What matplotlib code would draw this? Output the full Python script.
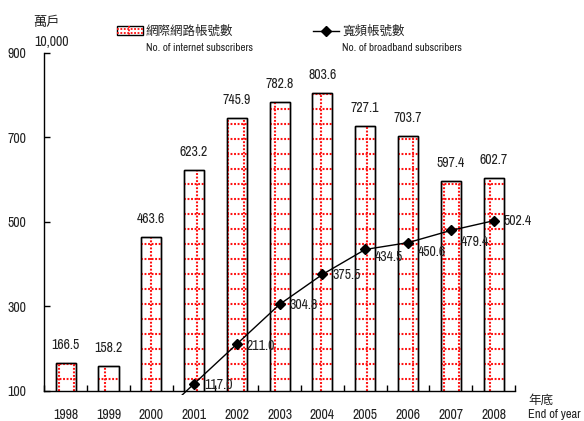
import numpy as np
import matplotlib
matplotlib.use("Agg")
import matplotlib.pyplot as plt
from matplotlib.collections import LineCollection
from matplotlib.patches import Rectangle
from matplotlib.lines import Line2D
from matplotlib import font_manager

years = ["1998", "1999", "2000", "2001", "2002", "2003", "2004", "2005", "2006", "2007", "2008"]
internet = [166.5, 158.2, 463.6, 623.2, 745.9, 782.8, 803.6, 727.1, 703.7, 597.4, 602.7]
broadband_years = ["2000", "2001", "2002", "2003", "2004", "2005", "2006", "2007", "2008"]
broadband = [22.0, 117.0, 211.0, 304.8, 375.5, 434.5, 450.6, 479.4, 502.4]
y_ticks = [100, 300, 500, 700, 900]

names = {f.name for f in font_manager.fontManager.ttflist}
latin = next((n for n in ["Archivo Narrow", "Roboto Condensed", "PT Sans Narrow", "Liberation Sans"] if n in names), "DejaVu Sans")
CJK = "Noto Sans CJK TC"
plt.rcParams['font.family'] = [latin, CJK, 'DejaVu Sans']
TXT = '#222222'
HATCH = '#ff1010'

fig = plt.figure(figsize=(5.84, 4.21), dpi=100)
ax = fig.add_axes([44.3 / 584, 1 - 391 / 421, (515 - 44.3) / 584, (391 - 52.5) / 421])
ymin, ymax = y_ticks[0], y_ticks[-1]

x = np.arange(len(years))
bars = ax.bar(x, internet, width=0.47, color='white', edgecolor='black', linewidth=1.0, zorder=2)

# dotted red grid pattern inside bars
hy = np.arange(ymin + 28.4, ymax, 35.5)
hx = 2 + 0.36 * np.arange(-8, 30)
for r in bars:
    x0, x1 = r.get_x(), r.get_x() + r.get_width()
    top = r.get_height()
    segs = [[(x0, yy), (x1, yy)] for yy in hy if yy < top]
    segs += [[(xx, ymin), (xx, top)] for xx in hx if x0 < xx < x1]
    lc = LineCollection(segs, colors=HATCH, linewidths=1.5, linestyles=[(0, (0.9, 0.8))], zorder=2.5)
    ax.add_collection(lc, autolim=False)
    r2 = Rectangle(r.get_xy(), r.get_width(), r.get_height(), fill=False, edgecolor='black', lw=1.0, zorder=3)
    ax.add_patch(r2)

for xi, v in zip(x, internet):
    ax.annotate(f"{v:.1f}", (xi, v), xytext=(0, 11), textcoords='offset pixels',
                ha='center', va='bottom', fontsize=10, color=TXT)

bx = np.array([years.index(y) for y in broadband_years])
ln, = ax.plot(bx, broadband, color='black', lw=1.0, marker='D', ms=5,
              markevery=list(range(1, len(bx))), zorder=4)
clip = Rectangle((0, -0.012), 1, 1.012, transform=ax.transAxes, visible=False)
ln.set_clip_path(clip)

label_dy = [0, -1, -2, -1, -1, -8, -9, -12, 0]
for xi, v, dy in zip(bx[1:], broadband[1:], label_dy[1:]):
    ax.annotate(f"{v:.1f}", (xi, v), xytext=(10, dy), textcoords='offset pixels',
                ha='left', va='center', fontsize=10, color=TXT, zorder=5)

ax.set_xlim(-0.5, len(years) - 0.5)
ax.set_ylim(ymin, ymax)
ax.set_xticks(x)
ax.set_xticklabels(years)
ax.set_xticks(np.arange(-0.5, len(years)), minor=True)
ax.tick_params(axis='x', which='major', length=0, pad=12, labelsize=10, labelcolor=TXT)
ax.tick_params(axis='x', which='minor', direction='in', length=4, width=1)
ax.set_yticks(y_ticks)
ax.tick_params(axis='y', direction='in', length=4, width=1, pad=13, labelsize=10, labelcolor=TXT)
for s in ['top', 'right']:
    ax.spines[s].set_visible(False)
for s in ['left', 'bottom']:
    ax.spines[s].set_linewidth(1.0)

# unit labels
fig.text(33.5 / 584, 1 - 22.7 / 421, "萬戶", family=[CJK], fontsize=9.5, color=TXT, va='center', ha='left')
fig.text(34 / 584, 1 - 41.7 / 421, "10,000", fontsize=10, color=TXT, va='center', ha='left')
fig.text(528 / 584, 1 - 400.7 / 421, "年底", family=[CJK], fontsize=9, color=TXT, va='center', ha='left')
fig.text(528 / 584, 1 - 415 / 421, "End of year", fontsize=9, color=TXT, va='center', ha='left')

# legend
lax = fig.add_axes([0, 0, 1, 1], zorder=10)
lax.set_xlim(0, 584)
lax.set_ylim(421, 0)
lax.axis('off')
lax.add_patch(Rectangle((117, 26), 26, 8.5, facecolor='white', edgecolor='none'))
lsegs = [[(117, 29), (143, 29)], [(117, 32.5), (143, 32.5)], [(129, 26), (129, 34.5)]]
llc = LineCollection(lsegs, colors=HATCH, linewidths=1.3, linestyles=[(0, (1.0, 0.9))])
lax.add_collection(llc, autolim=False)
lax.add_patch(Rectangle((117, 26), 26, 8.5, fill=False, edgecolor='black', lw=1.0))
lax.text(146, 31, "網際網路帳號數", family=[CJK], fontsize=9, color=TXT, va='center', ha='left')
lax.text(146, 47.7, "No. of internet subscribers", fontsize=8, color=TXT, va='center', ha='left')
lax.add_line(Line2D([313, 339], [31, 31], color='black', lw=1.0))
lax.add_line(Line2D([326], [31], color='black', marker='D', ms=5))
lax.text(342, 31, "寬頻帳號數", family=[CJK], fontsize=9, color=TXT, va='center', ha='left')
lax.text(342, 47.7, "No. of broadband subscribers", fontsize=8, color=TXT, va='center', ha='left')

fig.savefig("out.png", dpi=100)
